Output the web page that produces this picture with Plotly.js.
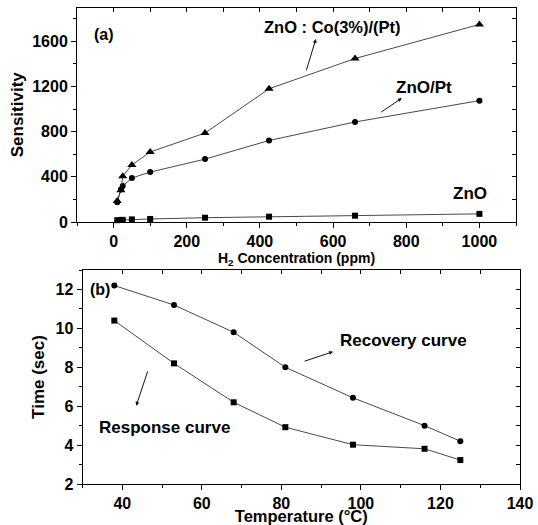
<!DOCTYPE html>
<html>
<head>
<meta charset="utf-8">
<script src="https://cdn.plot.ly/plotly-3.0.1.min.js"></script>
<style>html,body{margin:0;padding:0;background:#fff;}#chart{width:538px;height:525px;}</style>
</head>
<body>
<div id="chart"></div>
<script>
// Panel (a): sensitivity vs H2 concentration
const concentration = [10, 20, 25, 50, 100, 250, 425, 660, 1000];
const sensZnO = [16, 18, 19, 23, 27, 38, 47, 56, 72];
const sensZnOPt = [175, 288, 318, 390, 442, 557, 722, 886, 1075];
const sensZnOCoPt = [185, 282, 405, 505, 620, 788, 1180, 1448, 1750];

// Panel (b): response / recovery time vs temperature
const temperature = [38, 53, 68, 81, 98, 116, 125];
const recoveryTime = [12.2, 11.2, 9.8, 8.0, 6.43, 5.0, 4.2];
const responseTime = [10.4, 8.2, 6.2, 4.92, 4.02, 3.81, 3.23];

const FONT = 'Liberation Sans, Arial, Helvetica, sans-serif';
const tickF = {family: FONT, size: 16, color: '#000', weight: 'bold'};
const lineStyle = {color: '#333', width: 0.9};

function series(x, y, sym, size, xa, ya, name) {
  return {x: x, y: y, type: 'scatter', mode: 'lines+markers', name: name,
    xaxis: xa, yaxis: ya, line: lineStyle, cliponaxis: false,
    marker: {symbol: sym, size: size, color: '#000'}};
}

const data = [
  series(concentration, sensZnO, 'square', 6, 'x', 'y', 'ZnO'),
  series(concentration, sensZnOPt, 'circle', 6, 'x', 'y', 'ZnO/Pt'),
  series(concentration, sensZnOCoPt, 'triangle-up', 8, 'x', 'y', 'ZnO : Co(3%)/(Pt)'),
  series(temperature, recoveryTime, 'circle', 6, 'x2', 'y2', 'Recovery curve'),
  series(temperature, responseTime, 'square', 6, 'x2', 'y2', 'Response curve'),
  {x: [], y: [], type: 'scatter', xaxis: 'x3', yaxis: 'y3', showlegend: false, hoverinfo: 'skip'},
  {x: [], y: [], type: 'scatter', xaxis: 'x4', yaxis: 'y4', showlegend: false, hoverinfo: 'skip'}
];

const domTopX = [77/538, 516/538];
const domTopY = [1 - 222/525, 1 - 7.5/525];
const domBotX = [82.5/538, 520/538];
const domBotY = [1 - 484/525, 1 - 270/525];

function mainAxis(o) {
  return Object.assign({
    showgrid: false, zeroline: false, showline: true, linecolor: '#000', linewidth: 1,
    ticks: 'outside', ticklen: 5, tickwidth: 1, tickcolor: '#000',
    tickfont: tickF, fixedrange: true
  }, o);
}
function mirrorAxis(o) {
  return Object.assign({
    showgrid: false, zeroline: false, showline: true, linecolor: '#000', linewidth: 1,
    ticks: 'inside', ticklen: 4, tickwidth: 1, tickcolor: '#000',
    showticklabels: false, fixedrange: true
  }, o);
}

const layout = {
  width: 538, height: 525,
  margin: {l: 0, r: 0, t: 0, b: 0},
  paper_bgcolor: '#fff', plot_bgcolor: 'rgba(0,0,0,0)',
  showlegend: false,
  font: {family: FONT, color: '#000'},
  xaxis: mainAxis({domain: domTopX, anchor: 'y', range: [-100, 1100], tick0: 0, dtick: 200,
    minor: {dtick: 100, ticklen: 3, ticks: 'outside', tickcolor: '#000'},
    title: {text: 'H<sub>2</sub> Concentration (ppm)', standoff: 0,
      font: {family: FONT, size: 14, color: '#000', weight: 'bold'}}}),
  yaxis: mainAxis({domain: domTopY, anchor: 'x', range: [0, 1900], tick0: 0, dtick: 400,
    minor: {dtick: 200, ticklen: 3, ticks: 'outside', tickcolor: '#000'},
    title: {text: 'Sensitivity', standoff: 4,
      font: {family: FONT, size: 17, color: '#000', weight: 'bold'}}}),
  xaxis3: mirrorAxis({overlaying: 'x', side: 'top', anchor: 'y', range: [-100, 1100], tick0: 0, dtick: 100}),
  yaxis3: mirrorAxis({overlaying: 'y', side: 'right', anchor: 'x', range: [0, 1900], tick0: 0, dtick: 200}),
  xaxis2: mainAxis({domain: domBotX, anchor: 'y2', range: [30, 140], tick0: 40, dtick: 20,
    minor: {dtick: 10, ticklen: 3, ticks: 'outside', tickcolor: '#000'},
    title: {text: 'Temperature (°C)', standoff: 0,
      font: {family: FONT, size: 16.5, color: '#000', weight: 'bold'}}}),
  yaxis2: mainAxis({domain: domBotY, anchor: 'x2', range: [2, 13], tick0: 2, dtick: 2,
    minor: {dtick: 1, ticklen: 3, ticks: 'outside', tickcolor: '#000'},
    title: {text: 'Time (sec)', standoff: 6,
      font: {family: FONT, size: 17, color: '#000', weight: 'bold'}}}),
  xaxis4: mirrorAxis({overlaying: 'x2', side: 'top', anchor: 'y2', range: [30, 140], tick0: 30, dtick: 10}),
  yaxis4: mirrorAxis({overlaying: 'y2', side: 'right', anchor: 'x2', range: [2, 13], tick0: 2, dtick: 1}),
  annotations: [
    {xref: 'x', yref: 'y', x: -26, y: 1660, text: '(a)', showarrow: false,
      font: {family: FONT, size: 16, color: '#000', weight: 'bold'}},
    {xref: 'x', yref: 'y', x: 598, y: 1731, text: 'ZnO : Co(3%)/(Pt)', showarrow: false,
      font: {family: FONT, size: 16.5, color: '#000', weight: 'bold'}},
    {xref: 'x', yref: 'y', x: 848, y: 1190, text: 'ZnO/Pt', showarrow: false,
      font: {family: FONT, size: 17, color: '#000', weight: 'bold'}},
    {xref: 'x', yref: 'y', x: 975, y: 249, text: 'ZnO', showarrow: false,
      font: {family: FONT, size: 17, color: '#000', weight: 'bold'}},
    {xref: 'x', yref: 'y', x: 553, y: 1622, text: '', showarrow: true, arrowhead: 2,
      arrowsize: 0.8, arrowwidth: 1, arrowcolor: '#111', ax: -10, ay: 33, standoff: 0},
    {xref: 'x', yref: 'y', x: 788, y: 1098, text: '', showarrow: true, arrowhead: 2,
      arrowsize: 0.8, arrowwidth: 1, arrowcolor: '#111', ax: -22, ay: 15, standoff: 0},
    {xref: 'x2', yref: 'y2', x: 34.3, y: 12.0, text: '(b)', showarrow: false,
      font: {family: FONT, size: 16, color: '#000', weight: 'bold'}},
    {xref: 'x2', yref: 'y2', x: 110.7, y: 9.37, text: 'Recovery curve', showarrow: false,
      font: {family: FONT, size: 17, color: '#000', weight: 'bold'}},
    {xref: 'x2', yref: 'y2', x: 50.5, y: 4.88, text: 'Response curve', showarrow: false,
      font: {family: FONT, size: 17, color: '#000', weight: 'bold'}},
    {xref: 'x2', yref: 'y2', x: 93, y: 8.8, text: '', showarrow: true, arrowhead: 2,
      arrowsize: 0.8, arrowwidth: 1, arrowcolor: '#111', ax: -30, ay: 10, standoff: 0},
    {xref: 'x2', yref: 'y2', x: 43.5, y: 6.02, text: '', showarrow: true, arrowhead: 2,
      arrowsize: 0.8, arrowwidth: 1, arrowcolor: '#111', ax: 12, ay: -36, standoff: 0}
  ]
};

Plotly.newPlot('chart', data, layout, {staticPlot: true, displayModeBar: false});
</script>
</body>
</html>
